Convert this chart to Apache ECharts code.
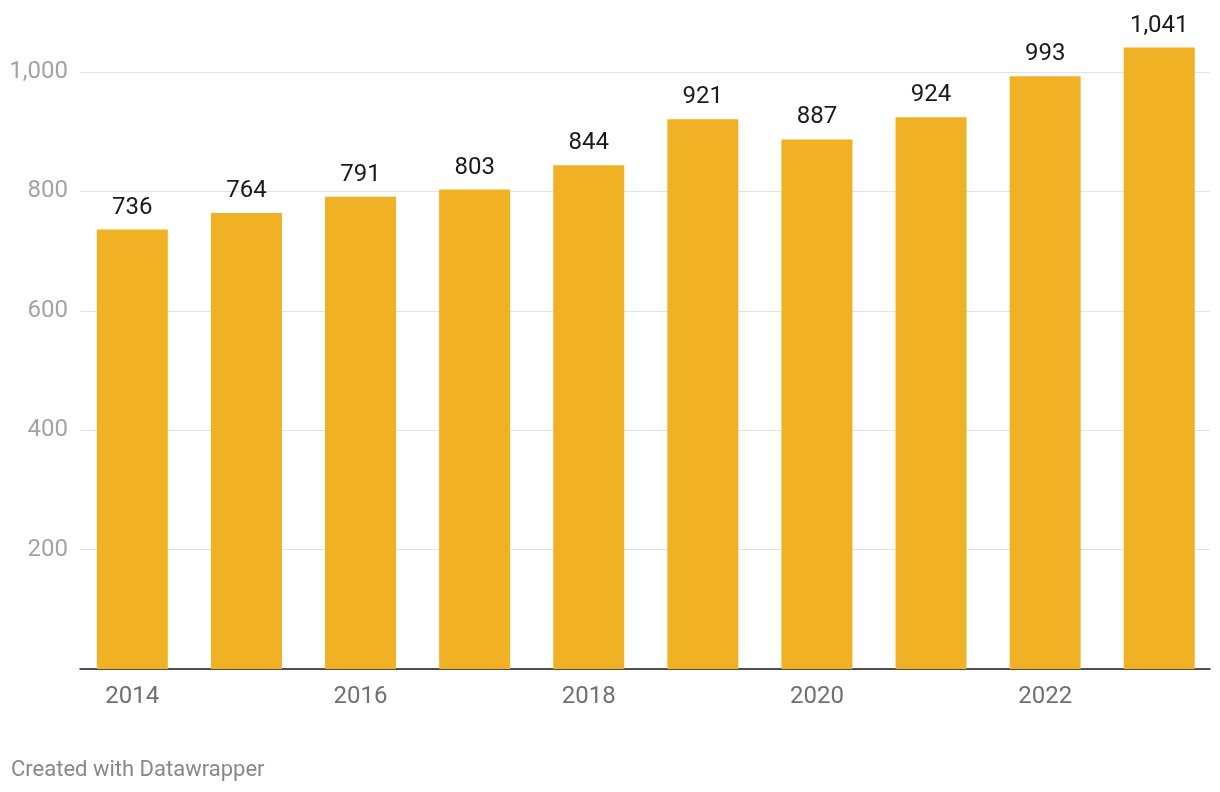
<!DOCTYPE html>
<html>
<head>
<meta charset="utf-8">
<script src="https://cdn.jsdelivr.net/npm/echarts@6/dist/echarts.min.js"></script>
<style>
  html, body { margin: 0; padding: 0; background: #fff; }
  #chart { width: 1220px; height: 792px; }
</style>
</head>
<body>
<div id="chart"></div>
<script>
var years = ['2014', '2015', '2016', '2017', '2018', '2019', '2020', '2021', '2022', '2023'];
var values = [736, 764, 791, 803, 844, 921, 887, 924, 993, 1041];
var yTicks = [0, 200, 400, 600, 800, 1000];

var FONT = 'Roboto, "Noto Sans", sans-serif';

function fmt(v) {
  return String(v).replace(/\B(?=(\d{3})+(?!\d))/g, ',');
}

var chart = echarts.init(document.getElementById('chart'), null, { renderer: 'canvas' });

chart.setOption({
  animation: false,
  backgroundColor: '#ffffff',
  textStyle: { fontFamily: FONT },
  grid: [
    // grid lines + baseline
    { left: 80, right: 10, top: 72, bottom: 123 },
    // bars
    { left: 75.3, right: 3.7, top: 72, bottom: 123 }
  ],
  xAxis: [
    {
      gridIndex: 0, type: 'value', min: 0, max: 1,
      axisLine: { show: true, onZero: false, lineStyle: { color: '#1a1a1a', width: 1.5 } },
      axisTick: { show: false }, axisLabel: { show: false }, splitLine: { show: false }
    },
    {
      gridIndex: 1, type: 'category', data: years,
      axisLine: { show: false }, axisTick: { show: false },
      axisLabel: {
        interval: 1, margin: 16, color: '#707070', fontSize: 24, fontFamily: FONT
      }
    }
  ],
  yAxis: [
    {
      gridIndex: 0, type: 'value', min: yTicks[0], max: yTicks[yTicks.length - 1], interval: 200,
      axisLine: { show: false }, axisTick: { show: false },
      axisLabel: {
        margin: 12, color: '#a3a3a3', fontSize: 24, fontFamily: FONT,
        formatter: function (v) { return v === 0 ? '' : fmt(v); }
      },
      splitLine: { lineStyle: { color: '#e3e3e3', width: 1 } }
    },
    {
      gridIndex: 1, type: 'value', min: yTicks[0], max: yTicks[yTicks.length - 1], interval: 200,
      axisLine: { show: false }, axisTick: { show: false },
      axisLabel: { show: false }, splitLine: { show: false }
    }
  ],
  graphic: [
    {
      type: 'text', left: 11, top: 759,
      style: { text: 'Created with Datawrapper', fill: '#888888', fontSize: 22, fontFamily: FONT }
    }
  ],
  series: [
    {
      type: 'bar', xAxisIndex: 1, yAxisIndex: 1,
      data: values, barWidth: 71, clip: false, z: 3,
      itemStyle: { color: '#f0b124' },
      label: {
        show: true, position: 'top', distance: 10,
        color: '#1a1a1a', fontSize: 24, fontFamily: FONT,
        formatter: function (p) { return fmt(p.value); }
      }
    }
  ]
});
</script>
</body>
</html>
